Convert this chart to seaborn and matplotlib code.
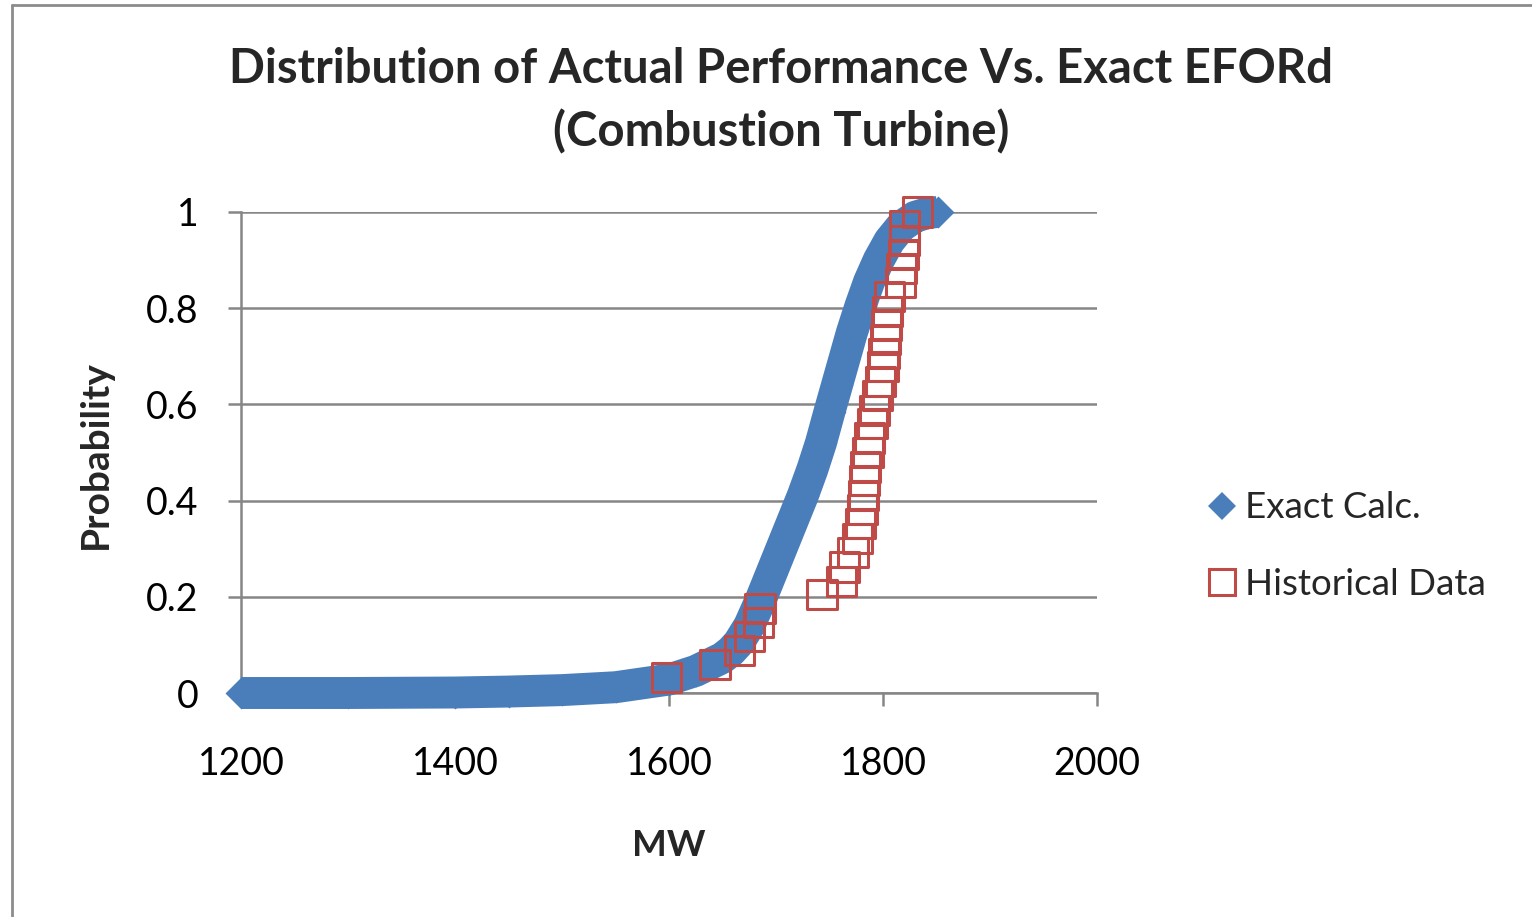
import matplotlib
matplotlib.use("Agg")
import matplotlib.pyplot as plt
from matplotlib.lines import Line2D
import pandas as pd
import seaborn as sns

# Exact calculation curve
exact_mw = [1200, 1300, 1400, 1450, 1500, 1550, 1600, 1625, 1650, 1658, 1665,
            1675, 1685, 1695, 1705, 1715, 1725, 1734, 1742, 1750, 1757, 1764,
            1771, 1779, 1787, 1796, 1806, 1817, 1830, 1842, 1851]
exact_prob = [0.000, 0.000, 0.001, 0.003, 0.006, 0.012, 0.028, 0.046, 0.073,
              0.087, 0.104, 0.140, 0.190, 0.245, 0.300, 0.355, 0.410, 0.465,
              0.520, 0.585, 0.640, 0.695, 0.750, 0.805, 0.855, 0.900, 0.940,
              0.970, 0.990, 0.998, 1.000]

# Historical data points
hist_mw = [1598, 1643, 1666, 1675, 1684, 1685, 1743, 1761, 1764, 1772,
           1776, 1779, 1781, 1782, 1783, 1784, 1786, 1787, 1790, 1792,
           1795, 1798, 1800, 1801, 1802, 1803, 1804, 1806, 1816, 1817,
           1819, 1820, 1820, 1832]
hist_prob = [0.032, 0.059, 0.088, 0.118, 0.147, 0.176, 0.205, 0.232, 0.262, 0.292,
             0.322, 0.352, 0.382, 0.411, 0.441, 0.470, 0.500, 0.530, 0.560, 0.588,
             0.618, 0.648, 0.678, 0.706, 0.735, 0.765, 0.794, 0.824, 0.853, 0.882,
             0.912, 0.941, 0.971, 1.000]

x_ticks = [1200, 1400, 1600, 1800, 2000]
y_ticks = [0, 0.2, 0.4, 0.6, 0.8, 1]
y_tick_labels = ["0", "0.2", "0.4", "0.6", "0.8", "1"]

blue = "#4A7EBB"
red = "#BE4B48"
grid_gray = "#868686"

sns.set_theme(style="white")
plt.rcParams["font.family"] = ["Lato", "DejaVu Sans"]

df_exact = pd.DataFrame({"mw": exact_mw, "prob": exact_prob})
df_hist = pd.DataFrame({"mw": hist_mw, "prob": hist_prob})

W, H = 1532, 917
fig = plt.figure(figsize=(W / 100, H / 100), dpi=100)
ax = fig.add_axes([241 / W, 1 - 693 / H, (1097 - 241) / W, (693 - 212) / H])

# Exact calc: dense diamonds drawn as a thick band plus diamond markers
sns.lineplot(data=df_exact, x="mw", y="prob", ax=ax, color=blue, lw=23,
             sort=False, solid_capstyle="butt", solid_joinstyle="round",
             clip_on=False, zorder=3)
sns.scatterplot(data=df_exact, x="mw", y="prob", ax=ax, marker="D", s=265,
                color=blue, linewidth=0, clip_on=False, zorder=3)

# Historical data: open red squares
sns.scatterplot(data=df_hist, x="mw", y="prob", ax=ax, marker="s", s=441,
                facecolor="none", edgecolor=red, linewidth=2.2,
                clip_on=False, zorder=4)

ax.set_xlim(1200, 2000)
ax.set_ylim(0, 1)
ax.set_xticks(x_ticks)
ax.set_yticks(y_ticks)
ax.set_yticklabels(y_tick_labels)
ax.set_xlabel("")
ax.set_ylabel("")

ax.grid(axis="y", color=grid_gray, lw=1.8)
ax.set_axisbelow(True)
for side in ["top", "right"]:
    ax.spines[side].set_visible(False)
for side in ["left", "bottom"]:
    ax.spines[side].set_color(grid_gray)
    ax.spines[side].set_linewidth(1.8)

ax.tick_params(axis="both", direction="out", length=9.4, width=1.8,
               color=grid_gray, labelsize=27, labelcolor="black")
ax.tick_params(axis="y", pad=21, left=True)
ax.tick_params(axis="x", pad=29, bottom=True)

fig.text(781 / W, 1 - 100.5 / H,
         "Distribution of Actual Performance Vs. Exact EFORd\n(Combustion Turbine)",
         ha="center", va="center", fontsize=34, fontweight="bold",
         linespacing=1.48)
fig.text(95 / W, 1 - 455 / H, "Probability", rotation=90, ha="center",
         va="center", fontsize=28, fontweight="bold")
fig.text(669 / W, 1 - 845 / H, "MW", ha="center", va="center",
         fontsize=26.5, fontweight="bold")

handles = [
    Line2D([], [], ls="", marker="D", ms=14, color=blue, mew=0),
    Line2D([], [], ls="", marker="s", ms=19, mfc="none", mec=red, mew=2.2),
]
fig.legend(handles, ["Exact Calc.", "Historical Data"], loc="center left",
           bbox_to_anchor=(1205 / W, 1 - 546 / H), frameon=False,
           fontsize=26.5, handlelength=0.9, handletextpad=0.2,
           labelspacing=1.17, borderpad=0, borderaxespad=0)

# chart area border (top and left edges visible)
fig.add_artist(Line2D([12 / W, 12 / W], [0, 1 - 5 / H], color="#8C8C8C",
                      lw=2, transform=fig.transFigure))
fig.add_artist(Line2D([12 / W, 1], [1 - 5 / H, 1 - 5 / H], color="#8C8C8C",
                      lw=2, transform=fig.transFigure))

fig.savefig("out.png", dpi=100)
